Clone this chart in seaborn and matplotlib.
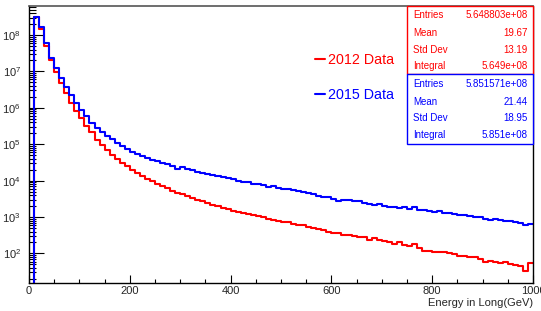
import numpy as np
import pandas as pd
import matplotlib
matplotlib.use("Agg")
import matplotlib.pyplot as plt
from matplotlib.patches import Rectangle
from matplotlib.ticker import LogLocator, MultipleLocator, NullFormatter
import seaborn as sns

# 100 bins of 10 GeV, 0..1000 GeV
bin_edges = np.arange(0, 1001, 10)

counts_2012 = [
    0,
    3.2e8, 1.5e8, 5.0e7, 2.0e7, 9.8e6, 4.7e6, 2.5e6, 1.4e6, 8.3e5, 5.1e5,
    3.2e5, 2.1e5, 1.32e5, 9.5e4, 6.9e4, 5.1e4, 4.0e4, 3.1e4, 2.45e4, 2.0e4,
    1.58e4, 1.32e4, 1.10e4, 9.5e3, 8.1e3, 7.1e3, 6.2e3, 5.2e3, 4.7e3, 4.2e3,
    3.7e3, 3.3e3, 2.95e3, 2.7e3, 2.4e3, 2.2e3, 1.95e3, 1.82e3, 1.66e3, 1.51e3,
    1.38e3, 1.29e3, 1.2e3, 1.12e3, 1.05e3, 980, 890, 850, 790, 740,
    710, 660, 620, 590, 540, 500, 470, 430, 380, 360,
    355, 330, 325, 300, 290, 280, 240, 265, 230, 220,
    210, 186, 205, 170, 158, 182, 138, 120, 115, 112,
    112, 107, 105, 95, 83, 83, 79, 78, 72, 60,
    63, 59, 55, 58, 52, 48, 46, 32, 55,
]

counts_2015 = [
    0,
    3.1e8, 1.65e8, 5.9e7, 2.3e7, 1.23e7, 6.5e6, 3.8e6, 2.2e6, 1.38e6, 8.7e5,
    5.8e5, 3.9e5, 2.8e5, 2.1e5, 1.66e5, 1.35e5, 1.1e5, 9.1e4, 7.6e4, 6.3e4,
    5.5e4, 4.8e4, 4.3e4, 3.8e4, 3.4e4, 3.1e4, 2.8e4, 2.5e4, 2.14e4, 2.3e4,
    2.1e4, 1.95e4, 1.78e4, 1.66e4, 1.51e4, 1.45e4, 1.32e4, 1.26e4, 1.15e4, 1.1e4,
    9.8e3, 9.3e3, 8.9e3, 8.3e3, 7.9e3, 7.4e3, 6.6e3, 6.9e3, 6.3e3, 6.0e3,
    5.9e3, 5.4e3, 5.1e3, 5.0e3, 4.6e3, 4.2e3, 3.9e3, 3.6e3, 3.5e3, 3.2e3,
    2.75e3, 3.0e3, 2.9e3, 2.75e3, 2.7e3, 2.5e3, 2.35e3, 2.2e3, 2.3e3, 2.0e3,
    1.86e3, 1.9e3, 1.82e3, 1.86e3, 1.66e3, 1.86e3, 1.58e3, 1.55e3, 1.48e3, 1.38e3,
    1.45e3, 1.32e3, 1.26e3, 1.2e3, 1.12e3, 1.17e3, 1.05e3, 980, 1020, 910,
    850, 890, 810, 790, 760, 720, 690, 600, 650,
]

dataset_labels = ["2012 Data", "2015 Data"]
dataset_colors = ["#ff0000", "#0000ff"]

stat_names = ["Entries", "Mean", "Std Dev", "Integral"]
stats_2012 = ["5.648803e+08", "19.67", "13.19", "5.649e+08"]
stats_2015 = ["5.851571e+08", "21.44", "18.95", "5.851e+08"]

centers = bin_edges[:-1] + 5
df = pd.concat([
    pd.DataFrame({"energy": centers, "count": counts_2012, "dataset": dataset_labels[0]}),
    pd.DataFrame({"energy": centers, "count": counts_2015, "dataset": dataset_labels[1]}),
], ignore_index=True)

sns.set_theme(style="ticks")
plt.rcParams["font.family"] = ["Liberation Sans", "DejaVu Sans"]
plt.rcParams["mathtext.default"] = "regular"

W, H = 541, 311
fig = plt.figure(figsize=(W / 100, H / 100), dpi=100)


def fx(px):
    return px / W


def fy(py):
    return 1 - py / H


ax = fig.add_axes([fx(29), fy(283), (533 - 29) / W, (283 - 6) / H])

for name, color in zip(dataset_labels, dataset_colors):
    sub = df[df["dataset"] == name].reset_index(drop=True)
    sns.histplot(data=sub, x="energy", weights="count", bins=list(bin_edges),
                 element="step", fill=False, color=color, linewidth=1.5,
                 label=name, ax=ax)

ax.set_yscale("log")
ax.set_xlim(0, 1000)
ax.set_ylim(15.4, 6.27e8)
ax.set_ylabel("")
ax.set_xlabel("Energy in Long(GeV)", fontsize=8, loc="right")
ax.xaxis.set_label_coords(1.0, -0.055)

ax.yaxis.set_major_locator(LogLocator(base=10, numticks=20))
ax.yaxis.set_minor_locator(LogLocator(base=10, subs=np.arange(2, 10), numticks=100))
ax.yaxis.set_minor_formatter(NullFormatter())
ax.xaxis.set_major_locator(MultipleLocator(200))
ax.xaxis.set_minor_locator(MultipleLocator(50))

ax.tick_params(axis="both", which="both", left=True, bottom=True,
               right=False, top=False, direction="in", color="black")
ax.tick_params(axis="y", which="major", length=10.8, width=0.8, pad=5.8, labelsize=8)
ax.tick_params(axis="y", which="minor", length=5, width=0.8)
ax.tick_params(axis="x", which="major", length=5.8, width=0.8, pad=2.5, labelsize=8)
ax.tick_params(axis="x", which="minor", length=2.9, width=0.8)

for side in ["left", "bottom", "right"]:
    ax.spines[side].set_visible(True)
    ax.spines[side].set_color("black")
    ax.spines[side].set_linewidth(1.0)
ax.spines["top"].set_visible(True)
ax.spines["top"].set_color("#555555")
ax.spines["top"].set_linewidth(1.2)

ax.legend(loc="upper left", bbox_to_anchor=(fx(315), fy(53)),
          bbox_transform=fig.transFigure, frameon=False, fontsize=10.3,
          handlelength=0.7, handletextpad=0.2, labelspacing=1.45,
          borderpad=0, borderaxespad=0, labelcolor="linecolor")

# stats boxes
box_tops = [6, 74]
box_bottoms = [74, 144.3]
row_ys = [[15, 32.7, 50, 65.7], [84.3, 101.7, 118.3, 135]]
for color, values, top, bottom, ys in zip(dataset_colors, [stats_2012, stats_2015],
                                          box_tops, box_bottoms, row_ys):
    fig.add_artist(Rectangle((fx(406.7), fy(bottom)), (533.3 - 406.7) / W,
                             (bottom - top) / H, transform=fig.transFigure,
                             facecolor="white", edgecolor=color, linewidth=1.0,
                             zorder=10))
    for name, val, y in zip(stat_names, values, ys):
        fig.text(fx(413), fy(y), name, color=color, fontsize=7,
                 ha="left", va="center", zorder=11)
        fig.text(fx(527.7), fy(y), val, color=color, fontsize=7,
                 ha="right", va="center", zorder=11)

fig.savefig("out.png", dpi=100)
